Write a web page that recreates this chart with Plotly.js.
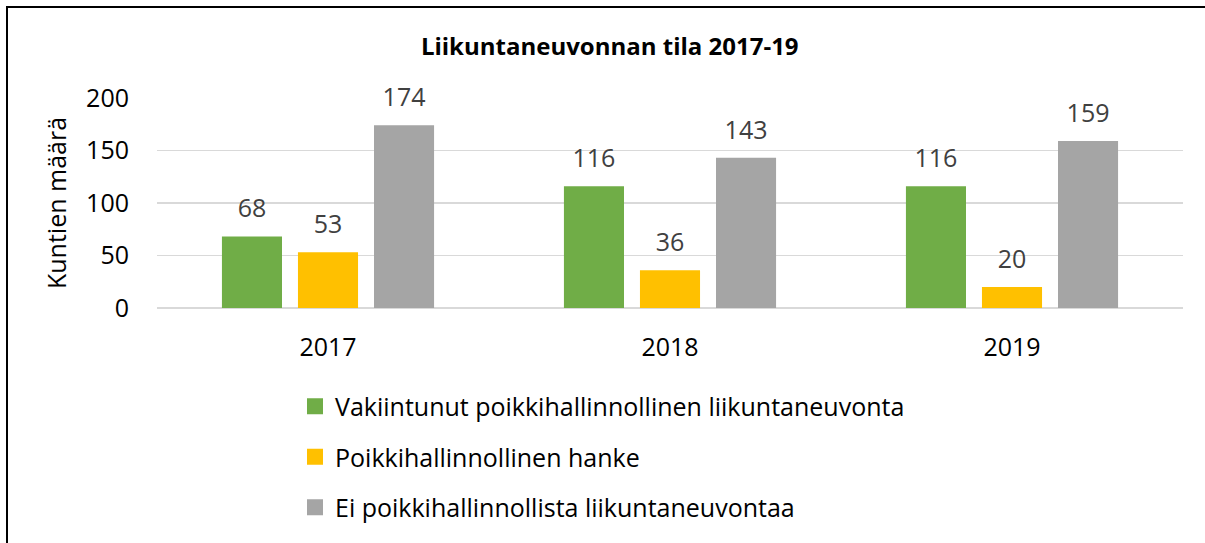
<!DOCTYPE html>
<html>
<head>
<meta charset="utf-8">
<script src="https://cdn.plot.ly/plotly-3.0.1.min.js"></script>
<style>
html,body{margin:0;padding:0;background:#fff;}
#chart{width:1205px;height:543px;}
#frame{position:absolute;left:6px;top:6px;width:1205px;height:543px;border-left:2px solid #000;border-top:2px solid #000;pointer-events:none;}
</style>
</head>
<body>
<div id="chart"></div>
<div id="frame"></div>
<script>
var years = ['2017', '2018', '2019'];
var seriesNames = ['Vakiintunut poikkihallinnollinen liikuntaneuvonta', 'Poikkihallinnollinen hanke', 'Ei poikkihallinnollista liikuntaneuvontaa'];
var vakiintunut = [68, 116, 116];
var hanke = [53, 36, 20];
var eiNeuvontaa = [174, 143, 159];
var yTicks = [0, 50, 100, 150, 200];

var colors = ['#70AD47', '#FFC000', '#A5A5A5'];
var values = [vakiintunut, hanke, eiNeuvontaa];
var fontFam = 'Open Sans, Noto Sans, sans-serif';
var FS = 25;

var traces = [];
values.forEach(function (v, i) {
  traces.push({
    type: 'bar',
    name: seriesNames[i],
    x: years,
    y: v,
    offsetgroup: 'o' + i,
    marker: {color: colors[i]},
    showlegend: false,
    hoverinfo: 'x+y'
  });
});
// data labels (scatter grouped like the bars, invisible marker lifts the text)
values.forEach(function (v, i) {
  traces.push({
    type: 'scatter',
    mode: 'markers+text',
    x: years,
    y: v,
    offsetgroup: 'o' + i,
    text: v.map(String),
    textposition: 'top center',
    textfont: {color: '#404040', size: FS, family: fontFam},
    marker: {size: 19, color: 'rgba(0,0,0,0)'},
    cliponaxis: false,
    showlegend: false,
    hoverinfo: 'skip'
  });
});
// legend entries (square swatches)
values.forEach(function (v, i) {
  traces.push({
    type: 'scatter',
    mode: 'markers',
    name: seriesNames[i],
    x: [null],
    y: [null],
    offsetgroup: 'o' + i,
    marker: {symbol: 'square', size: 17, color: colors[i]},
    legendgroup: 'g' + i,
    showlegend: true,
    hoverinfo: 'skip'
  });
});

var layout = {
  width: 1205,
  height: 543,
  margin: {l: 157, r: 22, t: 97.5, b: 235.3},
  paper_bgcolor: '#fff',
  plot_bgcolor: '#fff',
  font: {family: fontFam, color: '#000', size: FS},
  title: {
    text: '<b>Liikuntaneuvonnan tila 2017-19</b>',
    font: {size: 24, color: '#000', family: fontFam},
    x: 0.506, xanchor: 'center', y: 0.915, yanchor: 'middle'
  },
  barmode: 'group',
  bargap: 0.333,
  bargroupgap: 0.21,
  scattermode: 'group',
  scattergap: 0.333,
  xaxis: {
    type: 'category',
    showline: false,
    ticks: '',
    tickfont: {size: FS, color: '#000'},
    ticklabelstandoff: 22,
    showgrid: false
  },
  yaxis: {
    range: [0, 200],
    tickvals: yTicks,
    ticktext: yTicks.map(String),
    showgrid: true,
    gridcolor: '#D9D9D9',
    gridwidth: 1.5,
    zeroline: true,
    zerolinecolor: '#D9D9D9',
    zerolinewidth: 1.5,
    ticks: '',
    tickfont: {size: FS, color: '#000'},
    ticklabelstandoff: 27,
    title: {text: 'Kuntien määrä', font: {size: FS, color: '#000'}, standoff: 12}
  },
  showlegend: true,
  legend: {
    orientation: 'v',
    x: 0.1345, xanchor: 'left',
    y: -0.36, yanchor: 'top',
    traceorder: 'grouped',
    tracegroupgap: 15,
    font: {size: FS, color: '#000'},
    itemclick: false
  }
};

Plotly.newPlot('chart', traces, layout, {displayModeBar: false, staticPlot: true});
</script>
</body>
</html>
